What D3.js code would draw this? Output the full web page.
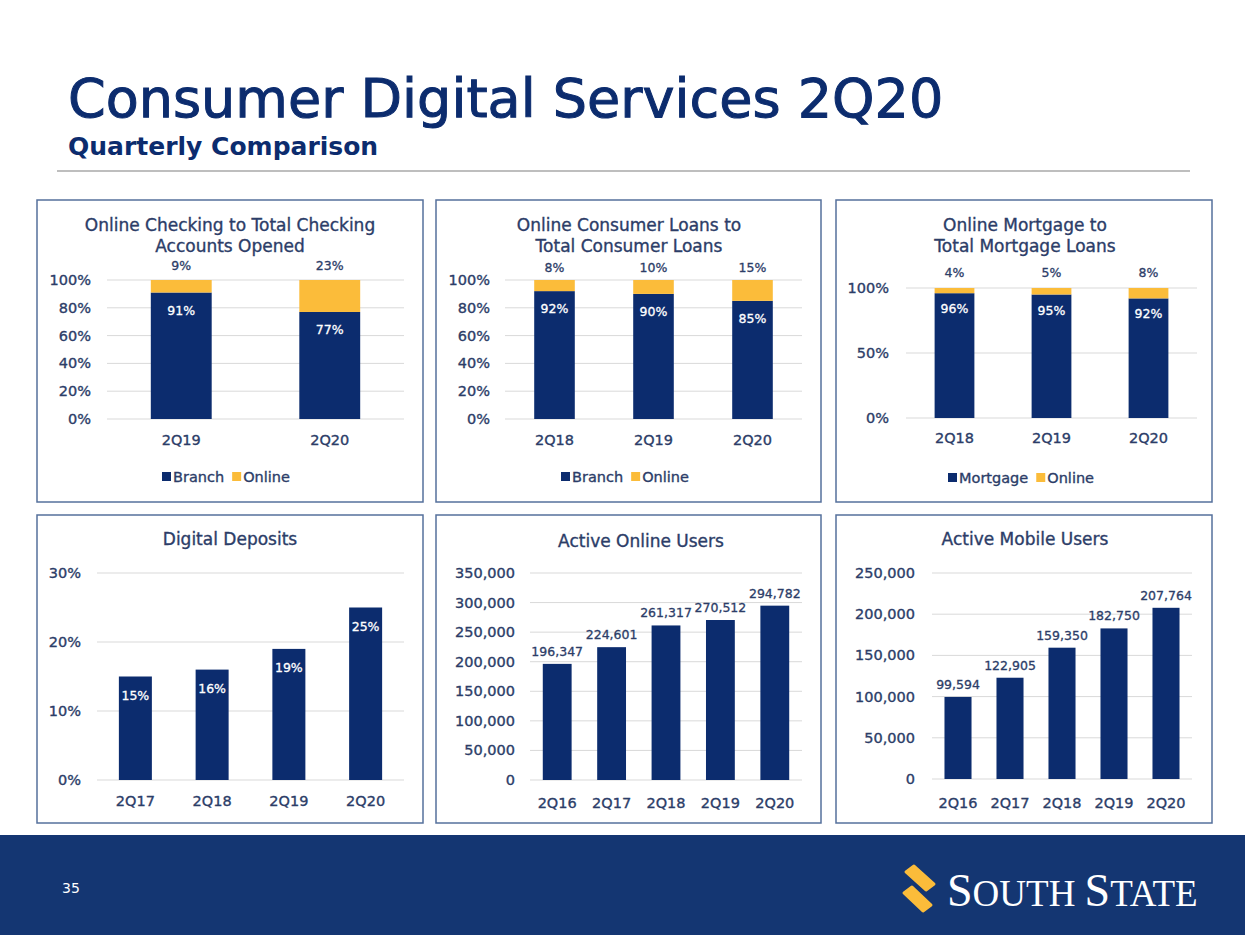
<!DOCTYPE html>
<html>
<head>
<meta charset="utf-8">
<script src="https://cdn.jsdelivr.net/npm/d3@7"></script>
<style>
  body { margin: 0; background: #fff; }
  svg { display: block; font-family: "DejaVu Sans", sans-serif; }
  .heavy { stroke-width: 0.35px; stroke: currentColor; }
</style>
</head>
<body>
<div id="chart"></div>
<script>
// ---- data ----
var checkCats = ["2Q19", "2Q20"];
var checkBranch = [91, 77];
var checkOnline = [9, 23];

var loanCats = ["2Q18", "2Q19", "2Q20"];
var loanBranch = [92, 90, 85];
var loanOnline = [8, 10, 15];

var mortCats = ["2Q18", "2Q19", "2Q20"];
var mortBranch = [96, 95, 92];
var mortOnline = [4, 5, 8];

var depCats = ["2Q17", "2Q18", "2Q19", "2Q20"];
var depValues = [15, 16, 19, 25];

var userCats = ["2Q16", "2Q17", "2Q18", "2Q19", "2Q20"];
var onlineUsers = [196347, 224601, 261317, 270512, 294782];
var mobileUsers = [99594, 122905, 159350, 182750, 207764];

var pctTicks = [0, 20, 40, 60, 80, 100];
var mortTicks = [0, 50, 100];
var depTicks = [0, 10, 20, 30];
var onlineTicks = [0, 50000, 100000, 150000, 200000, 250000, 300000, 350000];
var mobileTicks = [0, 50000, 100000, 150000, 200000, 250000];

var navy = "#0c2c6e";
var gold = "#fbbc3a";
var textCol = "#2c3d68";
var fmtNum = d3.format(",");

var svg = d3.select('#chart').append('svg')
    .attr('width', 1245)
    .attr('height', 935);

// add a thin same-colour stroke so text reads as heavy as the original
function heavy(sel, w) {
    return sel.attr('stroke', sel.attr('fill')).attr('stroke-width', w || 0.35);
}

// header
heavy(svg.append('text').attr('x', 68).attr('y', 117)
    .attr('font-size', 54).attr('fill', navy)
    .text("Consumer Digital Services 2Q20"), 1);
svg.append('text').attr('x', 68).attr('y', 155)
    .attr('font-size', 25).attr('font-weight', 'bold').attr('fill', navy)
    .text("Quarterly Comparison");
svg.append('line').attr('x1', 57).attr('x2', 1190).attr('y1', 171).attr('y2', 171)
    .attr('stroke', '#a9a9a9').attr('stroke-width', 1.5);

// footer band + logo
svg.append('rect').attr('x', 0).attr('y', 835).attr('width', 1245).attr('height', 100)
    .attr('fill', '#143672');
svg.append('text').attr('x', 62).attr('y', 893).attr('font-size', 14)
    .attr('fill', '#fff').text("35");
var logo = svg.append('g');
logo.append('path').attr('d', 'M906,872 L914,866 L934,884 L926,890 Z').attr('fill', gold)
    .attr('stroke', gold).attr('stroke-width', 3).attr('stroke-linejoin', 'round');
logo.append('path').attr('d', 'M904,893 L912,887 L931,905 L923,911 Z').attr('fill', gold)
    .attr('stroke', gold).attr('stroke-width', 3).attr('stroke-linejoin', 'round');
var logoText = logo.append('text').attr('x', 947).attr('y', 906)
    .attr('font-family', '"Liberation Serif", "DejaVu Serif", serif')
    .attr('fill', '#fff');
logoText.append('tspan').attr('font-size', 46).text("S");
logoText.append('tspan').attr('font-size', 37).text("OUTH ");
logoText.append('tspan').attr('font-size', 46).text("S");
logoText.append('tspan').attr('font-size', 37).text("TATE");

function panelBox(x0, y0, x1, y1) {
    svg.append('rect').attr('x', x0).attr('y', y0)
        .attr('width', x1 - x0).attr('height', y1 - y0)
        .attr('fill', '#fff').attr('stroke', '#55709c').attr('stroke-width', 1.5);
}

function titleLines(cx, ys, lines) {
    lines.forEach(function(t, i) {
        heavy(svg.append('text').attr('x', cx).attr('y', ys[i])
            .attr('text-anchor', 'middle').attr('font-size', 17).attr('fill', textCol)
            .text(t));
    });
}

function yAxisGrid(g, y, ticks, left, right, labelX, fmt) {
    g.selectAll('line.grid').data(ticks).enter().append('line')
        .attr('class', 'grid')
        .attr('x1', left).attr('x2', right)
        .attr('y1', function(d) { return y(d); })
        .attr('y2', function(d) { return y(d); })
        .attr('stroke', '#d9d9d9').attr('stroke-width', 1);
    g.selectAll('text.ytick').data(ticks).enter().append('text')
        .attr('class', 'ytick')
        .attr('x', labelX)
        .attr('y', function(d) { return y(d) + 5; })
        .attr('text-anchor', 'end').attr('font-size', 14.5).attr('fill', textCol)
        .attr('stroke', textCol).attr('stroke-width', 0.35)
        .text(fmt);
}

function stackedPanel(cfg) {
    panelBox(cfg.box[0], cfg.box[1], cfg.box[2], cfg.box[3]);
    titleLines(cfg.titleX, cfg.titleY, cfg.title);
    var g = svg.append('g');
    var x = d3.scaleBand().domain(cfg.cats).range([cfg.left, cfg.right]).paddingInner(0.59).paddingOuter(0.295);
    var y = d3.scaleLinear().domain([0, 100]).range([cfg.bottom, cfg.top]);
    yAxisGrid(g, y, cfg.ticks, cfg.left, cfg.right, cfg.labelX, function(d) { return d + "%"; });

    var rows = cfg.cats.map(function(c, i) { return { cat: c, b: cfg.branch[i], o: cfg.online[i] }; });
    g.selectAll('rect.b').data(rows).enter().append('rect')
        .attr('x', function(d) { return x(d.cat); })
        .attr('width', x.bandwidth())
        .attr('y', function(d) { return y(d.b); })
        .attr('height', function(d) { return y(0) - y(d.b); })
        .attr('fill', navy);
    g.selectAll('rect.o').data(rows).enter().append('rect')
        .attr('x', function(d) { return x(d.cat); })
        .attr('width', x.bandwidth())
        .attr('y', function(d) { return y(d.b + d.o); })
        .attr('height', function(d) { return y(d.b) - y(d.b + d.o); })
        .attr('fill', gold);
    // inside labels
    g.selectAll('text.in').data(rows).enter().append('text')
        .attr('x', function(d) { return x(d.cat) + x.bandwidth() / 2; })
        .attr('y', function(d) { return y(d.b) + cfg.inOff; })
        .attr('text-anchor', 'middle').attr('font-size', 12.5).attr('fill', '#fff')
        .attr('stroke', '#fff').attr('stroke-width', 0.3)
        .text(function(d) { return d.b + "%"; });
    // top labels
    g.selectAll('text.top').data(rows).enter().append('text')
        .attr('x', function(d) { return x(d.cat) + x.bandwidth() / 2; })
        .attr('y', cfg.topLabelY)
        .attr('text-anchor', 'middle').attr('font-size', 12.5).attr('fill', textCol)
        .attr('stroke', textCol).attr('stroke-width', 0.3)
        .text(function(d) { return d.o + "%"; });
    // category labels
    g.selectAll('text.cat').data(cfg.cats).enter().append('text')
        .attr('x', function(d) { return x(d) + x.bandwidth() / 2; })
        .attr('y', cfg.catY)
        .attr('text-anchor', 'middle').attr('font-size', 14.5).attr('fill', textCol)
        .attr('stroke', textCol).attr('stroke-width', 0.35)
        .text(function(d) { return d; });
    // legend
    var leg = g.append('g');
    var items = [{ name: cfg.legend[0], col: navy }, { name: cfg.legend[1], col: gold }];
    var lx = cfg.legendX;
    items.forEach(function(it) {
        leg.append('rect').attr('x', lx).attr('y', cfg.legendY - 10).attr('width', 9).attr('height', 9)
            .attr('fill', it.col);
        var t = heavy(leg.append('text').attr('x', lx + 11).attr('y', cfg.legendY)
            .attr('font-size', 14.5).attr('fill', textCol).text(it.name));
        lx += 11 + t.node().getComputedTextLength() + 8;
    });
}

function barPanel(cfg) {
    panelBox(cfg.box[0], cfg.box[1], cfg.box[2], cfg.box[3]);
    titleLines(cfg.titleX, [cfg.titleY], [cfg.title]);
    var g = svg.append('g');
    var x = d3.scaleBand().domain(cfg.cats).range([cfg.left, cfg.right])
        .paddingInner(cfg.pad).paddingOuter(cfg.pad / 2);
    var y = d3.scaleLinear().domain([0, cfg.max]).range([cfg.bottom, cfg.top]);
    yAxisGrid(g, y, cfg.ticks, cfg.left, cfg.right, cfg.labelX, cfg.tickFmt);

    var rows = cfg.cats.map(function(c, i) { return { cat: c, v: cfg.values[i] }; });
    g.selectAll('rect.bar').data(rows).enter().append('rect')
        .attr('x', function(d) { return x(d.cat); })
        .attr('width', x.bandwidth())
        .attr('y', function(d) { return y(d.v); })
        .attr('height', function(d) { return y(0) - y(d.v); })
        .attr('fill', navy);
    var lc = cfg.labelOff > 0 ? '#fff' : textCol;
    g.selectAll('text.val').data(rows).enter().append('text')
        .attr('x', function(d) { return x(d.cat) + x.bandwidth() / 2; })
        .attr('y', function(d) { return y(d.v) + cfg.labelOff; })
        .attr('text-anchor', 'middle').attr('font-size', 12.5)
        .attr('fill', lc).attr('stroke', lc).attr('stroke-width', 0.3)
        .text(function(d) { return cfg.valFmt(d.v); });
    g.selectAll('text.cat').data(cfg.cats).enter().append('text')
        .attr('x', function(d) { return x(d) + x.bandwidth() / 2; })
        .attr('y', cfg.catY)
        .attr('text-anchor', 'middle').attr('font-size', 14.5).attr('fill', textCol)
        .attr('stroke', textCol).attr('stroke-width', 0.35)
        .text(function(d) { return d; });
}

stackedPanel({
    box: [37, 200, 423, 502],
    title: ["Online Checking to Total Checking", "Accounts Opened"],
    titleX: 230, titleY: [231, 252],
    cats: checkCats, branch: checkBranch, online: checkOnline,
    ticks: pctTicks, left: 107, right: 404, top: 280, bottom: 419, labelX: 91,
    inOff: 22, topLabelY: 270, catY: 445,
    legend: ["Branch", "Online"], legendX: 162, legendY: 482
});

stackedPanel({
    box: [436, 200, 821, 502],
    title: ["Online Consumer Loans to", "Total Consumer Loans"],
    titleX: 629, titleY: [231, 252],
    cats: loanCats, branch: loanBranch, online: loanOnline,
    ticks: pctTicks, left: 505, right: 802, top: 280, bottom: 419, labelX: 490,
    inOff: 22, topLabelY: 272, catY: 445,
    legend: ["Branch", "Online"], legendX: 561, legendY: 482
});

stackedPanel({
    box: [836, 200, 1212, 502],
    title: ["Online Mortgage to", "Total Mortgage Loans"],
    titleX: 1025, titleY: [231, 252],
    cats: mortCats, branch: mortBranch, online: mortOnline,
    ticks: mortTicks, left: 906, right: 1197, top: 288, bottom: 418, labelX: 889,
    inOff: 20, topLabelY: 277, catY: 443,
    legend: ["Mortgage", "Online"], legendX: 948, legendY: 483
});

barPanel({
    box: [37, 515, 423, 823],
    title: "Digital Deposits", titleX: 230, titleY: 545,
    cats: depCats, values: depValues, max: 30, ticks: depTicks,
    left: 97, right: 404, top: 573, bottom: 780, labelX: 81, pad: 0.57,
    tickFmt: function(d) { return d + "%"; },
    valFmt: function(d) { return d + "%"; },
    labelOff: 23, catY: 806
});

barPanel({
    box: [436, 515, 821, 823],
    title: "Active Online Users", titleX: 641, titleY: 547,
    cats: userCats, values: onlineUsers, max: 350000, ticks: onlineTicks,
    left: 530, right: 802, top: 573, bottom: 780, labelX: 515, pad: 0.47,
    tickFmt: fmtNum, valFmt: fmtNum,
    labelOff: -8, catY: 808
});

barPanel({
    box: [836, 515, 1212, 823],
    title: "Active Mobile Users", titleX: 1025, titleY: 545,
    cats: userCats, values: mobileUsers, max: 250000, ticks: mobileTicks,
    left: 932, right: 1192, top: 573, bottom: 779, labelX: 915, pad: 0.48,
    tickFmt: fmtNum, valFmt: fmtNum,
    labelOff: -8, catY: 808
});
</script>
</body>
</html>
